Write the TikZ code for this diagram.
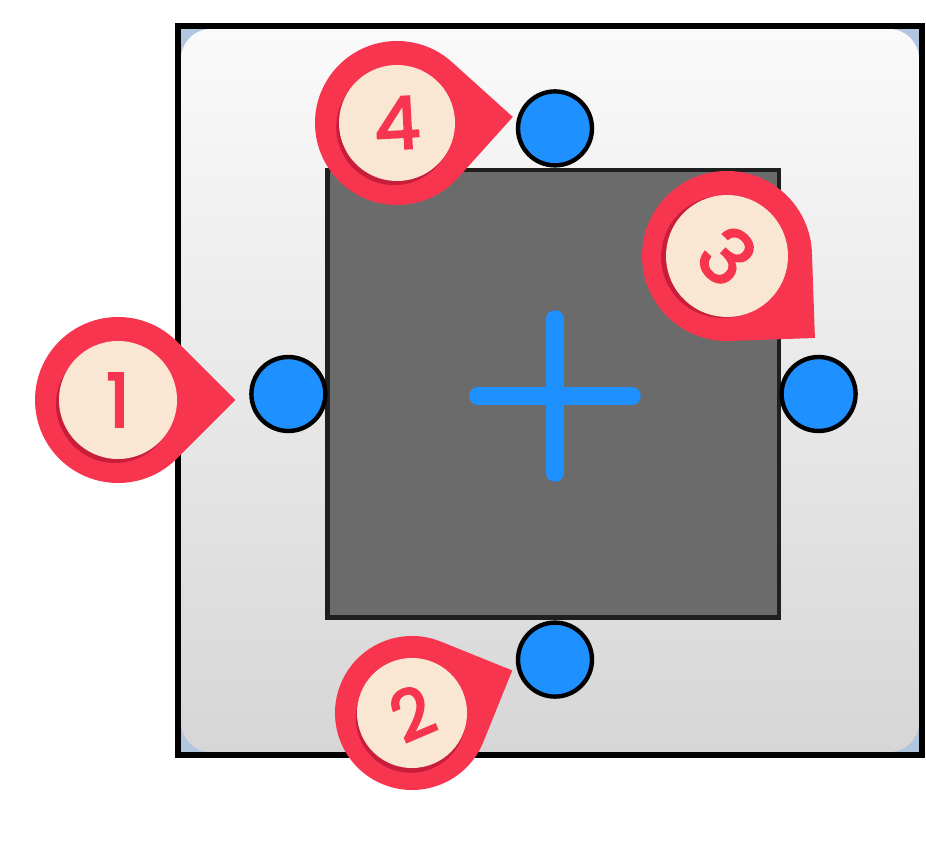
\documentclass[tikz,border=0pt]{standalone}
\usepackage{fontspec}
\newfontfamily\pinfont{Poppins}[FakeBold=3]
\usepackage{tikz}
\usetikzlibrary{positioning,calc}

\definecolor{pinred}{RGB}{247,53,79}
\definecolor{pinshadow}{RGB}{200,30,60}
\definecolor{pinbeige}{RGB}{249,231,211}
\definecolor{handleblue}{RGB}{30,144,255}
\definecolor{boxgray}{RGB}{107,107,107}
\definecolor{cornerblue}{RGB}{178,198,224}

% marker: name, centre, angle, outer radius, inner radius, number
\newcommand{\pinmark}[6]{%
  \begin{scope}[shift={#2}, rotate=#3]
    \fill[pinred] (45:#4) arc (45:315:#4) -- (0:{#4*1.4142}) -- cycle;
    \fill[pinshadow] (-3,-4) circle (#5);
    \fill[pinbeige] (0,0) circle (#5);
    \node[pinnum, rotate=#3, scale=#5/59] (#1) at (0,0) {#6};
  \end{scope}}

\begin{document}
\begin{tikzpicture}[x=0.02cm, y=0.02cm,
  handle/.style={circle, draw=black, fill=handleblue, line width=2.5pt, minimum size=1.48cm, inner sep=0pt},
  pinnum/.style={text=pinred, font=\pinfont\fontsize{42}{42}\selectfont, inner sep=0pt},
  plusbar/.style={handleblue, line width=10pt, line cap=round}]
\useasboundingbox (0,0) rectangle (926,-857);

% frame
\fill[cornerblue] (178,-26) rectangle (922,-755);
\shade[top color=white!98!black, bottom color=white!84!black, rounded corners=0.6cm] (181,-29) rectangle (919,-752);
\draw[black, line width=3.4pt] (178,-26) rectangle (922,-755);

% gray box and handles
\node[draw={black!88}, fill=boxgray, line width=2.8pt, minimum width=9.04cm, minimum height=8.96cm, inner sep=0pt] (box) at (553,-394) {};
\node[handle, left=0pt of box, xshift=0.06cm] (hleft) {};
\node[handle, right=0pt of box, xshift=-0.04cm] (hright) {};
\node[handle, above=0pt of box.north, xshift=0.04cm] (htop) {};
\node[handle, below=0pt of box.south, xshift=0.04cm] (hbottom) {};

% plus
\coordinate (pc) at (555,-396);
\draw[plusbar] ($(pc)+(-77,0)$) -- ($(pc)+(77,0)$);
\draw[plusbar] ($(pc)+(0,-77)$) -- ($(pc)+(0,77)$);

% markers
\pinmark{n1}{(118,-400)}{0}{83}{59}{1}
\pinmark{n4}{(397,-123)}{3}{82}{58}{4}
\pinmark{n3}{(727,-256)}{-43}{85}{61}{3}
\pinmark{n2}{(412,-713)}{23}{77}{55}{2}
\end{tikzpicture}
\end{document}
